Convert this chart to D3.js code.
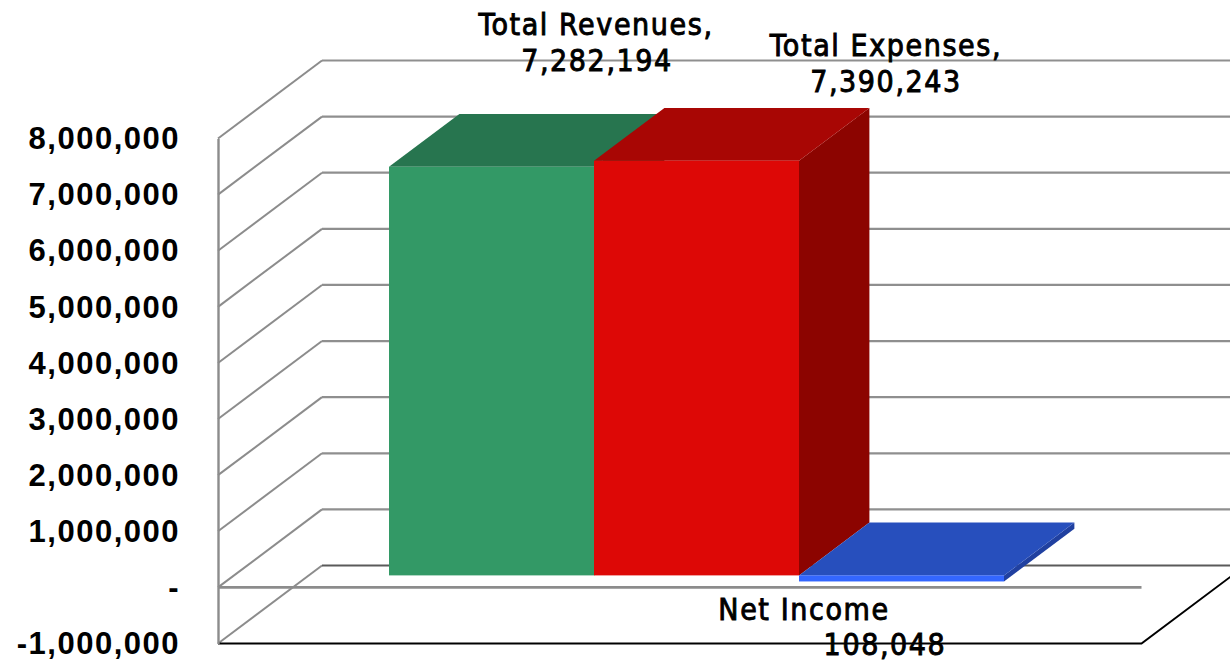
<!DOCTYPE html>
<html><head><meta charset="utf-8">
<script src="https://cdn.jsdelivr.net/npm/d3@7"></script>
<style>html,body{margin:0;padding:0;background:#fff;overflow:hidden}svg{display:block}
.lab{font-family:"DejaVu Sans";font-stretch:condensed;font-size:30px;letter-spacing:1.6px;fill:#000;stroke:#000;stroke-width:.9px}
.tick text{font-family:"Liberation Sans";font-weight:700;font-size:31px;letter-spacing:1.5px;fill:#000}
</style></head><body><svg id="c" width="1230" height="661"></svg>
<script>
const categories = ["Total Revenues", "Total Expenses", "Net Income"];
const values = [7282194, 7390243, -108048];
const labelLines = [["Total Revenues,", "7,282,194"], ["Total Expenses,", "7,390,243"], ["Net Income", "108,048"]];
const tickValues = [-1000000, 0, 1000000, 2000000, 3000000, 4000000, 5000000, 6000000, 7000000, 8000000];
const frontColors = ["#339966", "#dd0806", "#3366ff"];
const topColors = ["#27754f", "#a80604", "#274fbd"];
const sideColors = ["#1f5c3e", "#8c0400", "#2040a0"];

const svg = d3.select("#c");
const y = d3.scaleLinear().domain([-1000000, 8000000]).range([643.5, 138.5]);
const x = d3.scaleBand().domain(categories).range([389, 1004]);
const floorX = d3.scaleLinear().domain([0, 1]).range([218, 1141.5]);
const dx = d3.scaleLinear().domain([0, 1]).range([0, 104]);
const dy = d3.scaleLinear().domain([0, 1]).range([0, -78]);
const barFront = 12 / 78, barBack = 64.8 / 78;
const line = d3.line();
const poly = p => line(p) + "Z";

// walls and gridlines
tickValues.forEach(v => {
  const front = y(v), xl = floorX(0), xb = xl + dx(1), yb = front + dy(1);
  const isMin = v === tickValues[0], isZero = v === 0;
  svg.append("path").attr("d", line([[xl, front], [xb, yb]]))
    .attr("fill", "none").attr("stroke", "#8c8c8c").attr("stroke-width", 2);
  svg.append("path").attr("d", line([[xb, yb], [1240, yb]]))
    .attr("fill", "none").attr("stroke", isMin ? "#5a5a5a" : "#8f8f8f").attr("stroke-width", 2.2);
  if (isZero) svg.append("path").attr("d", line([[xl, front], [floorX(1), front]]))
    .attr("fill", "none").attr("stroke", "#8c8c8c").attr("stroke-width", 2.6);
  if (isMin) svg.append("path").attr("d", line([[xl, front], [floorX(1), front], [floorX(1) + dx(1), yb]]))
    .attr("fill", "none").attr("stroke", "#000").attr("stroke-width", 2);
});

// axis
const axis = d3.axisLeft(y).tickValues(tickValues).tickSize(0).tickPadding(38)
  .tickFormat(v => v === 0 ? "-" : d3.format(",")(v).replace("\u2212", "-"));
const ag = svg.append("g").attr("transform", "translate(218,0)").call(axis);
ag.select(".domain").attr("stroke", "#8c8c8c").attr("stroke-width", 2.4);
ag.selectAll(".tick text").attr("dy", "0.33em");

// bars
categories.forEach((c, i) => {
  const x0 = x(c), x1 = x0 + x.bandwidth();
  const ox = dx(barBack) - dx(barFront), oy = dy(barBack) - dy(barFront);
  const base = y(0) + dy(barFront), end = y(values[i]) + dy(barFront);
  const t = Math.min(base, end), b = Math.max(base, end);
  const g = svg.append("g");
  g.append("path").attr("fill", sideColors[i])
    .attr("d", poly([[x1, t], [x1 + ox, t + oy], [x1 + ox, b + oy], [x1, b]]));
  g.append("path").attr("fill", topColors[i])
    .attr("d", poly([[x0, t], [x0 + ox, t + oy], [x1 + ox, t + oy], [x1, t]]));
  g.append("rect").attr("fill", frontColors[i])
    .attr("x", x0).attr("y", t).attr("width", x1 - x0).attr("height", b - t);
});

// data labels
const labelAnchor = [[596, 24], [886, 45], [804, 609]];
const second = [[597, 60], [886, 81], [885, 644]];
labelLines.forEach((ls, i) => {
  [labelAnchor[i], second[i]].forEach((p, k) => {
    svg.append("text").attr("class", "lab").attr("text-anchor", "middle")
      .attr("x", p[0]).attr("y", p[1]).attr("dy", "0.36em").text(ls[k]);
  });
});
</script></body></html>
